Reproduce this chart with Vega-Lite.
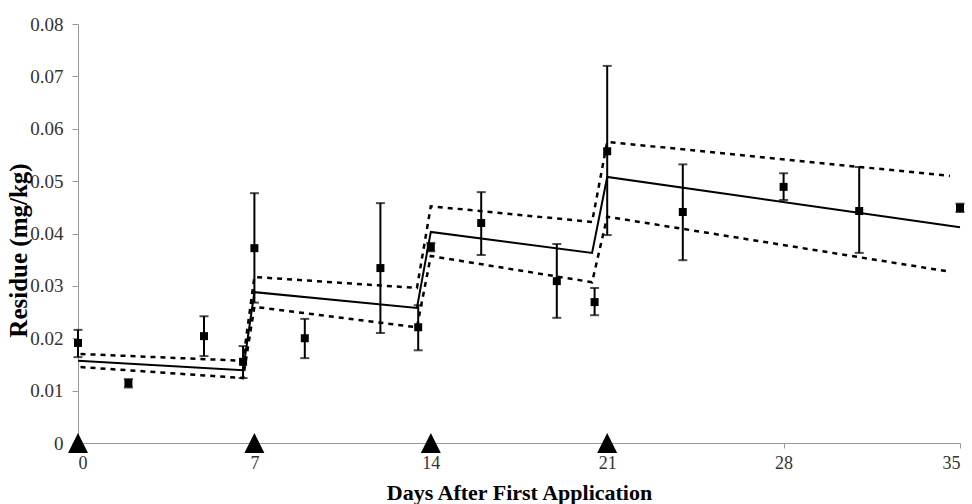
{
  "$schema": "https://vega.github.io/schema/vega-lite/v6.json",
  "width": 882,
  "height": 419,
  "autosize": {"type": "none"},
  "padding": {"left": 78, "top": 24, "right": 12, "bottom": 61},
  "background": "white",
  "config": {
    "view": {"stroke": null},
    "font": "Liberation Serif",
    "axis": {
      "labelFont": "Liberation Serif",
      "labelColor": "#333333",
      "titleFont": "Liberation Serif",
      "grid": false,
      "domainColor": "#999999",
      "tickColor": "#999999"
    },
    "axisX": {"labelFontSize": 18, "labelPadding": 6, "tickSize": 5},
    "axisY": {"labelFontSize": 19, "labelPadding": 9, "tickSize": 6}
  },
  "datasets": {
    "points": [
      {"day": 0, "residue": 0.0191, "lo": 0.0164, "hi": 0.0216},
      {"day": 2, "residue": 0.0114, "lo": 0.0106, "hi": 0.0122},
      {"day": 5, "residue": 0.0204, "lo": 0.0166, "hi": 0.0242},
      {"day": 6.55, "residue": 0.0155, "lo": 0.0124, "hi": 0.0185},
      {"day": 7, "residue": 0.0372, "lo": 0.0268, "hi": 0.0477},
      {"day": 9, "residue": 0.0200, "lo": 0.0162, "hi": 0.0237},
      {"day": 12, "residue": 0.0334, "lo": 0.0210, "hi": 0.0458},
      {"day": 13.5, "residue": 0.0221, "lo": 0.0177, "hi": 0.0263},
      {"day": 14, "residue": 0.0374, "lo": 0.0366, "hi": 0.0382},
      {"day": 16, "residue": 0.0420, "lo": 0.0359, "hi": 0.0479},
      {"day": 19, "residue": 0.0309, "lo": 0.0239, "hi": 0.0380},
      {"day": 20.5, "residue": 0.0269, "lo": 0.0244, "hi": 0.0296},
      {"day": 21, "residue": 0.0557, "lo": 0.0397, "hi": 0.0720},
      {"day": 24, "residue": 0.0441, "lo": 0.0349, "hi": 0.0532},
      {"day": 28, "residue": 0.0489, "lo": 0.0464, "hi": 0.0515},
      {"day": 31, "residue": 0.0443, "lo": 0.0363, "hi": 0.0527},
      {"day": 35, "residue": 0.0449, "lo": 0.0441, "hi": 0.0457}
    ],
    "curves": [
      {"series": "fit", "day": 0, "residue": 0.0157},
      {"series": "fit", "day": 6.55, "residue": 0.0139},
      {"series": "fit", "day": 7, "residue": 0.0288},
      {"series": "fit", "day": 13.45, "residue": 0.0258},
      {"series": "fit", "day": 14, "residue": 0.0403},
      {"series": "fit", "day": 20.4, "residue": 0.0363},
      {"series": "fit", "day": 21, "residue": 0.0508},
      {"series": "fit", "day": 35, "residue": 0.0412},
      {"series": "upper", "day": 0.1, "residue": 0.0170},
      {"series": "upper", "day": 6.55, "residue": 0.0157},
      {"series": "upper", "day": 7, "residue": 0.0317},
      {"series": "upper", "day": 13.45, "residue": 0.0296},
      {"series": "upper", "day": 14, "residue": 0.0452},
      {"series": "upper", "day": 20.4, "residue": 0.0422},
      {"series": "upper", "day": 21, "residue": 0.0575},
      {"series": "upper", "day": 34.6, "residue": 0.0510},
      {"series": "lower", "day": 0.1, "residue": 0.0145},
      {"series": "lower", "day": 6.55, "residue": 0.0124},
      {"series": "lower", "day": 7, "residue": 0.0260},
      {"series": "lower", "day": 13.45, "residue": 0.0221},
      {"series": "lower", "day": 14, "residue": 0.0357},
      {"series": "lower", "day": 20.4, "residue": 0.0307},
      {"series": "lower", "day": 21, "residue": 0.0432},
      {"series": "lower", "day": 34.6, "residue": 0.0327}
    ],
    "applications": [
      {"day": 0, "residue": 0},
      {"day": 7, "residue": 0},
      {"day": 14, "residue": 0},
      {"day": 21, "residue": 0}
    ]
  },
  "layer": [
    {
      "data": {"name": "curves"},
      "transform": [{"filter": "datum.series !== 'fit'"}],
      "mark": {"type": "line", "color": "black", "strokeWidth": 2.5, "strokeDash": [5, 5], "clip": false},
      "encoding": {
        "x": {
          "field": "day", "type": "quantitative",
          "scale": {"domain": [0, 35], "nice": false, "zero": false},
          "axis": {
            "values": [0, 7, 14, 21, 28, 35],
            "title": "Days After First Application",
            "titleFontSize": 22,
            "titleFontWeight": "bold",
            "titleColor": "black",
            "titleX": 441,
            "titleY": 56,
            "titleAlign": "center",
            "titleBaseline": "alphabetic"
          }
        },
        "y": {
          "field": "residue", "type": "quantitative",
          "scale": {"domain": [0, 0.08], "nice": false},
          "axis": {
            "values": [0, 0.01, 0.02, 0.03, 0.04, 0.05, 0.06, 0.07, 0.08],
            "labelExpr": "datum.value == 0 ? '0' : format(datum.value, '.2f')",
            "title": "Residue (mg/kg)",
            "titleFontSize": 25,
            "titleFontWeight": "bold",
            "titleColor": "black",
            "titleAngle": -90,
            "titleX": -60,
            "titleY": 226,
            "titleAlign": "center",
            "titleBaseline": "middle"
          }
        },
        "detail": {"field": "series", "type": "nominal"}
      }
    },
    {
      "data": {"name": "curves"},
      "transform": [{"filter": "datum.series === 'fit'"}],
      "mark": {"type": "line", "color": "black", "strokeWidth": 2},
      "encoding": {
        "x": {"field": "day", "type": "quantitative"},
        "y": {"field": "residue", "type": "quantitative"}
      }
    },
    {
      "data": {"name": "points"},
      "mark": {"type": "rule", "color": "black", "strokeWidth": 2},
      "encoding": {
        "x": {"field": "day", "type": "quantitative"},
        "y": {"field": "lo", "type": "quantitative"},
        "y2": {"field": "hi"}
      }
    },
    {
      "data": {"name": "points"},
      "mark": {"type": "tick", "color": "black", "orient": "horizontal", "size": 9, "thickness": 2},
      "encoding": {
        "x": {"field": "day", "type": "quantitative"},
        "y": {"field": "lo", "type": "quantitative"}
      }
    },
    {
      "data": {"name": "points"},
      "mark": {"type": "tick", "color": "black", "orient": "horizontal", "size": 9, "thickness": 2},
      "encoding": {
        "x": {"field": "day", "type": "quantitative"},
        "y": {"field": "hi", "type": "quantitative"}
      }
    },
    {
      "data": {"name": "points"},
      "mark": {"type": "point", "shape": "square", "filled": true, "color": "black", "opacity": 1, "size": 64},
      "encoding": {
        "x": {"field": "day", "type": "quantitative"},
        "y": {"field": "residue", "type": "quantitative"}
      }
    },
    {
      "data": {"name": "applications"},
      "mark": {"type": "point", "shape": "M0,-1L-1,1L1,1Z", "filled": true, "color": "black", "opacity": 1, "size": 400, "clip": false},
      "encoding": {
        "x": {"field": "day", "type": "quantitative"},
        "y": {"field": "residue", "type": "quantitative"}
      }
    }
  ]
}
